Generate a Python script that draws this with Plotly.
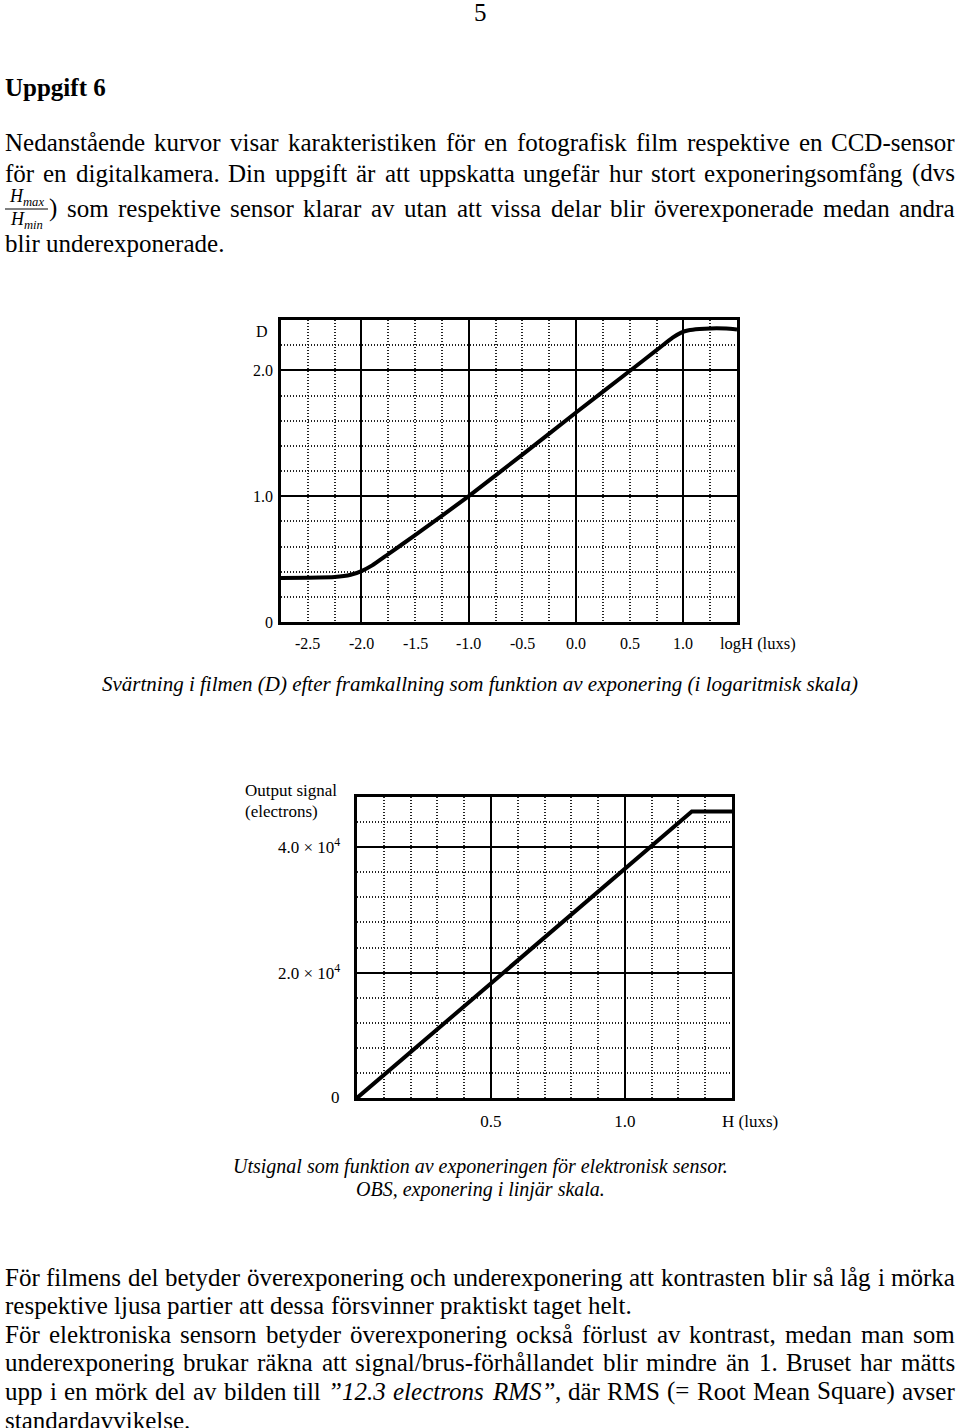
import plotly.graph_objects as go

# ---------------- data ----------------
film_logH = [-2.75, -2.5, -2.25, -2.1, -2.0, -1.9, -1.75, -1.5, -1.0, -0.5, 0.0, 0.5, 0.75, 0.9, 0.98, 1.05, 1.15, 1.25, 1.4, 1.5]
film_D = [0.35, 0.352, 0.357, 0.375, 0.405, 0.45, 0.54, 0.69, 1.0, 1.33, 1.665, 1.995, 2.16, 2.26, 2.30, 2.318, 2.328, 2.333, 2.332, 2.325]

ccd_H = [0.0, 1.25, 1.4]
ccd_signal = [0.0, 45700, 45700]

film_xtick_vals = [-2.5, -2.0, -1.5, -1.0, -0.5, 0.0, 0.5, 1.0]
film_xtick_text = ["-2.5", "-2.0", "-1.5", "-1.0", "-0.5", "0.0", "0.5", "1.0"]
film_ytick_vals = [0, 1, 2]
film_ytick_text = ["0", "1.0", "2.0"]
ccd_xtick_vals = [0.5, 1.0]
ccd_xtick_text = ["0.5", "1.0"]
ccd_ytick_vals = [0, 20000, 40000]
ccd_ytick_text = ["0", "2.0 × 10<sup>4</sup>", "4.0 × 10<sup>4</sup>"]

W, H = 960, 1428
SERIF = "Liberation Serif, Times New Roman, serif"

def px(x):
    return x / W

def py(y):
    return 1 - y / H

# ---------------- font metrics for justification ----------------
ROMAN = {" ": 250, "(": 333, ")": 333, ",": 250, "-": 333, ".": 250, "/": 278, ":": 278,
         "=": 564, "”": 444, '"': 408}
ITALIC = {" ": 250, "(": 333, ")": 333, ",": 250, "-": 333, ".": 250, "”": 556}
for d in "0123456789":
    ROMAN[d] = 500
    ITALIC[d] = 500
_ru = [722, 667, 667, 722, 611, 556, 722, 722, 333, 389, 722, 611, 889, 722, 722, 556, 722, 667, 556, 611, 722, 722, 944, 722, 722, 611]
_rl = [444, 500, 444, 500, 444, 333, 500, 500, 278, 278, 500, 278, 778, 500, 500, 500, 500, 333, 389, 278, 500, 500, 722, 500, 500, 444]
_iu = [611, 611, 667, 722, 611, 611, 722, 722, 333, 444, 667, 556, 833, 667, 722, 611, 722, 611, 500, 556, 722, 611, 833, 611, 556, 556]
_il = [500, 500, 444, 500, 444, 278, 500, 500, 278, 278, 444, 278, 722, 500, 500, 500, 500, 389, 389, 278, 500, 444, 667, 444, 444, 389]
for i, c in enumerate("ABCDEFGHIJKLMNOPQRSTUVWXYZ"):
    ROMAN[c] = _ru[i]
    ITALIC[c] = _iu[i]
for i, c in enumerate("abcdefghijklmnopqrstuvwxyz"):
    ROMAN[c] = _rl[i]
    ITALIC[c] = _il[i]
ACC = {"å": "a", "ä": "a", "ö": "o", "Ö": "O", "Ä": "A", "Å": "A", "é": "e"}

def twidth(s, italic, size):
    tab = ITALIC if italic else ROMAN
    return sum(tab.get(ACC.get(ch, ch), 500) for ch in s) * size / 1000.0

annotations = []

def ann(text, x, y, size=25, xanchor="left", italic=False, bold=False, xref="paper", yref="paper", yshift=0):
    t = text
    if italic:
        t = "<i>" + t + "</i>"
    if bold:
        t = "<b>" + t + "</b>"
    annotations.append(dict(text=t, x=x, y=y, xref=xref, yref=yref, xanchor=xanchor,
                            yanchor="middle", showarrow=False, borderpad=0, borderwidth=0,
                            yshift=yshift,
                            font=dict(family=SERIF, size=size, color="black")))

def word_list(line):
    out = []
    for w in line:
        if isinstance(w, str):
            for part in w.split(" "):
                if part:
                    out.append([(part, False)])
        else:
            out.append(w)
    return out

def place_line(line, y, x0=5, x1=955, justify=True, size=25):
    words = word_list(line)
    widths = [sum(twidth(t, it, size) for t, it in wd) for wd in words]
    if justify and len(words) > 1:
        gap = (x1 - x0 - sum(widths)) / (len(words) - 1)
    else:
        gap = 250 * size / 1000.0
    x = x0
    for wd, wdt in zip(words, widths):
        xx = x
        for t, it in wd:
            ann(t, px(xx), py(y), size=size, italic=it)
            xx += twidth(t, it, size)
        x += wdt + gap

# ---------------- page text ----------------
ann("5", px(480), py(13), size=25, xanchor="center")
ann("Uppgift 6", px(5), py(87), size=25, bold=True)

place_line(["Nedanstående kurvor visar karakteristiken för en fotografisk film respektive en CCD-sensor"], 143)
place_line(["för en digitalkamera. Din uppgift är att uppskatta ungefär hur stort exponeringsomfång (dvs"], 173)
place_line([") som respektive sensor klarar av utan att vissa delar blir överexponerade medan andra"], 208, x0=49)
place_line(["blir underexponerade."], 243, justify=False)
ann("<i>H</i><sub><i>max</i></sub>", px(26), py(198), size=18, xanchor="center")
ann("<i>H</i><sub><i>min</i></sub>", px(26), py(220), size=18, xanchor="center")

BODY_Y0 = 1277
BODY_DY = 28.6
place_line(["För filmens del betyder överexponering och underexponering att kontrasten blir så låg i mörka"], BODY_Y0)
place_line(["respektive ljusa partier att dessa försvinner praktiskt taget helt."], BODY_Y0 + BODY_DY, justify=False)
place_line(["För elektroniska sensorn betyder överexponering också förlust av kontrast, medan man som"], BODY_Y0 + 2 * BODY_DY)
place_line(["underexponering brukar räkna att signal/brus-förhållandet blir mindre än 1. Bruset har mätts"], BODY_Y0 + 3 * BODY_DY)
place_line(["upp i en mörk del av bilden till", [("”12.3", True)], [("electrons", True)],
            [("RMS”", True), (",", False)], "där RMS (= Root Mean Square) avser"], BODY_Y0 + 4 * BODY_DY)
place_line(["standardavvikelse."], BODY_Y0 + 5 * BODY_DY, justify=False)

# chart 1 labels
ann("D", px(262), py(331), size=16, xanchor="center")
for v, t in zip(film_xtick_vals, film_xtick_text):
    ann(t, v, py(644), size=16, xanchor="center", xref="x")
for v, t in zip(film_ytick_vals, film_ytick_text):
    ann(t, px(273), v, size=16, xanchor="right", yref="y", yshift=0)
ann("logH (luxs)", px(720), py(644), size=16.5)
ann("Svärtning i filmen (D) efter framkallning som funktion av exponering (i logaritmisk skala)",
    px(480), py(684), size=21, xanchor="center", italic=True)

# chart 2 labels
ann("Output signal", px(245), py(790), size=17)
ann("(electrons)", px(245), py(811), size=17)
for v, t in zip(ccd_ytick_vals, ccd_ytick_text):
    ann(t, px(340), v, size=17, xanchor="right", yref="y2", yshift=1)
ann("H (luxs)", px(722), py(1121), size=17)
ann("Utsignal som funktion av exponeringen för elektronisk sensor.",
    px(480), py(1166), size=20, xanchor="center", italic=True)
ann("OBS, exponering i linjär skala.", px(480), py(1189), size=20, xanchor="center", italic=True)

# ---------------- figure ----------------
fig = go.Figure()
fig.add_trace(go.Scatter(x=film_logH, y=film_D, mode="lines", xaxis="x", yaxis="y",
                         line=dict(color="black", width=4, shape="spline", smoothing=0.4),
                         hoverinfo="skip"))
fig.add_trace(go.Scatter(x=ccd_H, y=ccd_signal, mode="lines", xaxis="x2", yaxis="y2",
                         line=dict(color="black", width=4), hoverinfo="skip"))

DOT = "1.2px,1.8px"
common = dict(showline=True, mirror=True, linecolor="black", linewidth=3, zeroline=False,
              showgrid=True, gridcolor="black", gridwidth=1.5, ticks="", fixedrange=True)
minor_style = dict(showgrid=True, gridcolor="#222222", gridwidth=1.6, griddash=DOT)

fig.update_layout(
    width=W, height=H, margin=dict(l=0, r=0, t=0, b=0),
    paper_bgcolor="white", plot_bgcolor="white", showlegend=False,
    xaxis=dict(domain=[px(281), px(737)], range=[-2.75, 1.5], anchor="y",
               tickmode="array", tickvals=[-2, -1, 0, 1], showticklabels=False,
               minor=dict(tickmode="array", tickvals=[-2.75 + 0.25 * i for i in range(18)], **minor_style),
               **common),
    yaxis=dict(domain=[py(622), py(320)], range=[0, 2.4], anchor="x",
               tickmode="array", tickvals=film_ytick_vals, showticklabels=False,
               minor=dict(tickmode="array", tickvals=[0.2 * i for i in range(13)], **minor_style),
               **common),
    xaxis2=dict(domain=[px(357), px(732)], range=[0, 1.4], anchor="y2",
                tickmode="array", tickvals=ccd_xtick_vals, ticktext=ccd_xtick_text,
                ticklabelstandoff=6, tickfont=dict(family=SERIF, size=17, color="black"),
                minor=dict(tickmode="array", tickvals=[0.1 * i for i in range(15)], **minor_style),
                **common),
    yaxis2=dict(domain=[py(1098), py(797)], range=[0, 48000], anchor="x2",
                tickmode="array", tickvals=ccd_ytick_vals, showticklabels=False,
                minor=dict(tickmode="array", tickvals=[4000 * i for i in range(13)], **minor_style),
                **common),
    annotations=annotations,
    shapes=[dict(type="line", xref="paper", yref="paper", x0=px(5), x1=px(48),
                 y0=py(209), y1=py(209), line=dict(color="black", width=1))],
)

fig.write_html("out.html")
